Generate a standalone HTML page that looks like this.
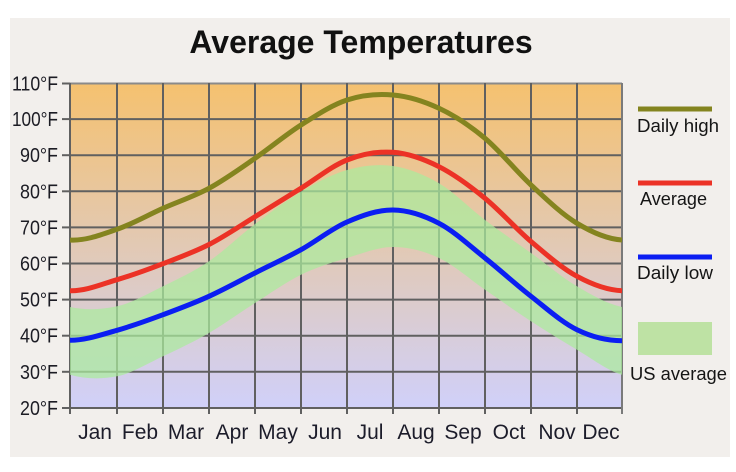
<!DOCTYPE html>
<html>
<head>
<meta charset="utf-8">
<style>
html,body{margin:0;padding:0;background:#ffffff;}
svg{display:block;}
text{font-family:"Liberation Sans",Arial,sans-serif;}
</style>
</head>
<body>
<svg width="736" height="472" viewBox="0 0 736 472" xmlns="http://www.w3.org/2000/svg">
  <defs>
    <linearGradient id="bg" gradientUnits="userSpaceOnUse" x1="0" y1="83" x2="0" y2="408">
      <stop offset="0" stop-color="#f5c16f"/>
      <stop offset="0.5" stop-color="#e2c9b4"/>
      <stop offset="1" stop-color="#d0d0f9"/>
    </linearGradient>
    <clipPath id="aboveLower">
      <path d="M70,374.7 C85.5,379.1 101.7,379.4 117,376.3 S147.7,363.5 163,356.3 S193.7,341.9 209,333 S239.7,312.7 255,303 S285.7,282.2 301,274.7 S331.7,262.6 347,258 S377.7,247 393,247 S423.7,250.9 439,258 S469.7,279.2 485,289.7 S515.7,311.3 531,321.3 S561.8,340.8 577,349.7 S606.8,370.3 622,374.7 L622,80 L70,80 Z"/>
    </clipPath>
    <clipPath id="plot">
      <rect x="70" y="83" width="552" height="325"/>
    </clipPath>
  </defs>

  <rect x="0" y="0" width="736" height="472" fill="#ffffff"/>
  <rect x="10" y="18" width="720" height="439" fill="#f2efec"/>

  <text x="361" y="53" font-size="32" font-weight="bold" text-anchor="middle" fill="#111111">Average Temperatures</text>

  <!-- plot background -->
  <rect x="70" y="83" width="552" height="325" fill="url(#bg)"/>

  <!-- grid -->
  <g stroke="#606060" stroke-width="2" fill="none">
    <line x1="70" y1="83.5" x2="622" y2="83.5" stroke="#8a8a8a"/>
    <line x1="70" y1="119.1" x2="622" y2="119.1"/>
    <line x1="70" y1="155.2" x2="622" y2="155.2"/>
    <line x1="70" y1="191.3" x2="622" y2="191.3"/>
    <line x1="70" y1="227.4" x2="622" y2="227.4"/>
    <line x1="70" y1="263.5" x2="622" y2="263.5"/>
    <line x1="70" y1="299.6" x2="622" y2="299.6"/>
    <line x1="70" y1="335.7" x2="622" y2="335.7"/>
    <line x1="70" y1="371.8" x2="622" y2="371.8"/>
    <line x1="62" y1="408" x2="623" y2="408"/>
    <line x1="70" y1="83" x2="70" y2="414"/>
    <line x1="117" y1="83" x2="117" y2="414"/>
    <line x1="163" y1="83" x2="163" y2="414"/>
    <line x1="209" y1="83" x2="209" y2="414"/>
    <line x1="255" y1="83" x2="255" y2="414"/>
    <line x1="301" y1="83" x2="301" y2="414"/>
    <line x1="347" y1="83" x2="347" y2="414"/>
    <line x1="393" y1="83" x2="393" y2="414"/>
    <line x1="439" y1="83" x2="439" y2="414"/>
    <line x1="485" y1="83" x2="485" y2="414"/>
    <line x1="531" y1="83" x2="531" y2="414"/>
    <line x1="577" y1="83" x2="577" y2="414"/>
    <line x1="622" y1="83" x2="622" y2="414" stroke="#7a7a7a"/>
    <!-- left ticks -->
    <line x1="62" y1="83.5" x2="70" y2="83.5"/>
    <line x1="62" y1="119.1" x2="70" y2="119.1"/>
    <line x1="62" y1="155.2" x2="70" y2="155.2"/>
    <line x1="62" y1="191.3" x2="70" y2="191.3"/>
    <line x1="62" y1="227.4" x2="70" y2="227.4"/>
    <line x1="62" y1="263.5" x2="70" y2="263.5"/>
    <line x1="62" y1="299.6" x2="70" y2="299.6"/>
    <line x1="62" y1="335.7" x2="70" y2="335.7"/>
    <line x1="62" y1="371.8" x2="70" y2="371.8"/>
  </g>

  <!-- US average band -->
  <g clip-path="url(#plot)">
    <path clip-path="url(#aboveLower)" fill="#abeb9d" fill-opacity="0.72"
      d="M70,307 C85.5,310.3 101.7,309.75 117,306.3 S147.7,293.8 163,286.3 S193.7,271.7 209,261.3 S239.7,235.6 255,224 S285.7,200.7 301,191.7 S331.7,174.3 347,170 S377.7,163.8 393,166 S423.7,174.3 439,183.3 S469.7,208.4 485,220 S515.7,242 531,253 S561.8,277.3 577,286.3 S606.8,303.7 622,307 L622,410 L70,410 Z"/>
  </g>

  <!-- series -->
  <g fill="none" stroke-width="5" stroke-linejoin="round" clip-path="url(#plot)">
    <path stroke="#84841f" d="M70,240 C85.5,241 101.7,234.6 117,229.3 S147.7,215.1 163,208.3 S193.7,196.6 209,188.3 S239.7,168.9 255,158.3 S285.7,134.7 301,125 S331.7,105 347,100 S377.7,93.6 393,95 S423.7,101.1 439,108.3 S469.7,125.5 485,138.3 S515.7,170.8 531,185 S561.8,214.1 577,223.3 S606.8,239 622,240"/>
    <path stroke="#ec3226" d="M70,290.7 C85.5,291.3 101.7,284.2 117,279.7 S147.7,269.6 163,263.7 S193.7,252.3 209,244.5 S239.7,226.1 255,216.7 S285.7,197.8 301,188.3 S331.7,166 347,160 S377.7,151.2 393,152.3 S423.7,159 439,166.7 S469.7,185.8 485,198.3 S515.7,228.5 531,241.5 S561.8,268.1 577,276.3 S606.8,290.1 622,290.7"/>
    <path stroke="#0b1ef2" d="M70,340.3 C85.5,340.4 101.7,334.6 117,330.3 S147.7,320.4 163,314.7 S193.7,303.3 209,296.3 S239.7,280.8 255,273 S285.7,258.2 301,249.7 S331.7,228.6 347,222 S377.7,209.8 393,210 S423.7,215.3 439,223.3 S469.7,245.8 485,258 S515.7,284.4 531,296.3 S561.8,322.3 577,329.7 S606.8,340.6 622,340.7"/>
  </g>

  <!-- Y labels -->
  <g font-size="20" fill="#1c1c24" text-anchor="end" lengthAdjust="spacingAndGlyphs">
    <text x="58" y="90.5" textLength="46" lengthAdjust="spacingAndGlyphs">110°F</text>
    <text x="58" y="126.1" textLength="46" lengthAdjust="spacingAndGlyphs">100°F</text>
    <text x="58" y="162.2" textLength="38" lengthAdjust="spacingAndGlyphs">90°F</text>
    <text x="58" y="198.3" textLength="38" lengthAdjust="spacingAndGlyphs">80°F</text>
    <text x="58" y="234.4" textLength="38" lengthAdjust="spacingAndGlyphs">70°F</text>
    <text x="58" y="270.5" textLength="38" lengthAdjust="spacingAndGlyphs">60°F</text>
    <text x="58" y="306.6" textLength="38" lengthAdjust="spacingAndGlyphs">50°F</text>
    <text x="58" y="342.7" textLength="38" lengthAdjust="spacingAndGlyphs">40°F</text>
    <text x="58" y="378.8" textLength="38" lengthAdjust="spacingAndGlyphs">30°F</text>
    <text x="58" y="415" textLength="38" lengthAdjust="spacingAndGlyphs">20°F</text>
  </g>

  <!-- Month labels -->
  <g font-size="21" fill="#1c1c2a" text-anchor="middle">
    <text x="95" y="439">Jan</text>
    <text x="140" y="439">Feb</text>
    <text x="186" y="439">Mar</text>
    <text x="232" y="439">Apr</text>
    <text x="278" y="439">May</text>
    <text x="325" y="439">Jun</text>
    <text x="370" y="439">Jul</text>
    <text x="416" y="439">Aug</text>
    <text x="463" y="439">Sep</text>
    <text x="509" y="439">Oct</text>
    <text x="557" y="439">Nov</text>
    <text x="601" y="439">Dec</text>
  </g>

  <!-- Legend -->
  <rect x="638" y="106.5" width="74" height="5" fill="#84841f"/>
  <text x="637" y="132" font-size="18" fill="#151515" textLength="82" lengthAdjust="spacingAndGlyphs">Daily high</text>

  <rect x="638" y="180.5" width="74" height="5" fill="#ec3226"/>
  <text x="640" y="205" font-size="18" fill="#151515" textLength="67" lengthAdjust="spacingAndGlyphs">Average</text>

  <rect x="638" y="254.5" width="74" height="5" fill="#0b1ef2"/>
  <text x="637" y="279" font-size="18" fill="#151515" textLength="76" lengthAdjust="spacingAndGlyphs">Daily low</text>

  <rect x="638" y="322" width="74" height="33" fill="#bee2a4"/>
  <text x="630" y="380" font-size="18" fill="#151515" textLength="97" lengthAdjust="spacingAndGlyphs">US average</text>
</svg>
</body>
</html>
